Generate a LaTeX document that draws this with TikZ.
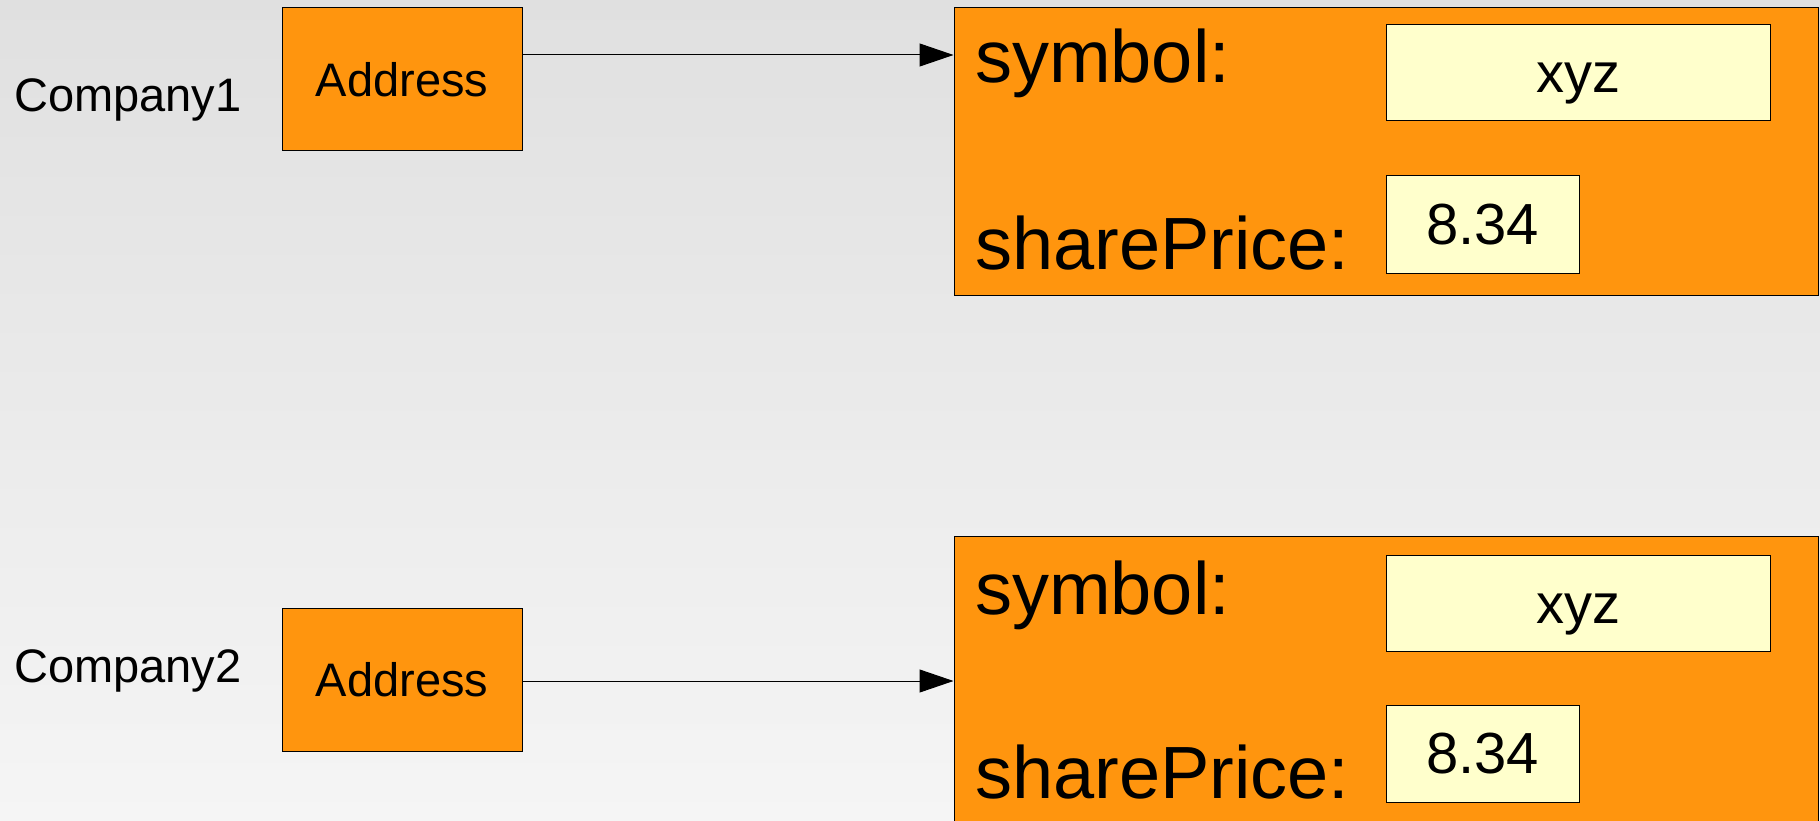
\documentclass[tikz,border=0pt]{standalone}
\usepackage{fontspec}
\setmainfont{Liberation Sans}
\usetikzlibrary{arrows.meta}
\definecolor{bgtop}{RGB}{224,224,224}
\definecolor{bgbot}{RGB}{245,245,245}
\definecolor{boxorange}{RGB}{255,149,14}
\definecolor{valyellow}{RGB}{255,255,204}
\tikzset{
  refbox/.style={draw=black, line width=1pt, fill=boxorange, minimum width=240pt, minimum height=143pt, inner sep=0pt, font=\fontsize{47}{56}\selectfont},
  objbox/.style={draw=black, line width=1pt, fill=boxorange, minimum width=864pt, minimum height=287pt, inner sep=0pt},
  valbox/.style={draw=black, line width=1pt, fill=valyellow, inner sep=0pt},
  symbox/.style={valbox, minimum width=384pt, minimum height=96pt, text height=40pt, text depth=0pt, font=\fontsize{56}{66}\selectfont},
  pricebox/.style={valbox, minimum width=193pt, minimum height=97pt, font=\fontsize{58}{68}\selectfont},
  varlabel/.style={anchor=base west, inner sep=0pt, font=\fontsize{47}{56}\selectfont},
  fieldlabel/.style={anchor=base west, inner sep=0pt, font=\fontsize{74}{88}\selectfont},
  ptr/.style={line width=1pt, -{Triangle[length=34pt, width=23pt]}}
}
\begin{document}
\begin{tikzpicture}[x=1pt, y=-1pt]
\useasboundingbox (0,0) rectangle (1820,821);
\shade[top color=bgtop, bottom color=bgbot] (0,0) rectangle (1820,821);

% Company 1
\node[varlabel] (lbl1) at (14,112) {Company1};
\node[refbox] (addr1) at (402,79.5) {Address};
\node[objbox] (obj1) at (1386,151.5) {};
\node[fieldlabel] (sym1) at (975,83) {symbol:};
\node[fieldlabel] (sp1) at (975,269) {sharePrice:};
\node[symbox] (xyz1) at (1578,73) {xyz};
\node[pricebox] (val1) at (1482.5,224.5) {8.34};
\coordinate (p1) at (0,55);
\draw[ptr] (addr1.east |- p1) -- (obj1.west |- p1);

% Company 2
\node[varlabel] (lbl2) at (14,682) {Company2};
\node[refbox] (addr2) at (402,679.5) {Address};
\node[objbox] (obj2) at (1386,679.5) {};
\node[fieldlabel] (sym2) at (975,614) {symbol:};
\node[fieldlabel] (sp2) at (975,798) {sharePrice:};
\node[symbox] (xyz2) at (1578,603) {xyz};
\node[pricebox] (val2) at (1482.5,754) {8.34};
\coordinate (p2) at (0,681);
\draw[ptr] (addr2.east |- p2) -- (obj2.west |- p2);
\end{tikzpicture}
\end{document}
